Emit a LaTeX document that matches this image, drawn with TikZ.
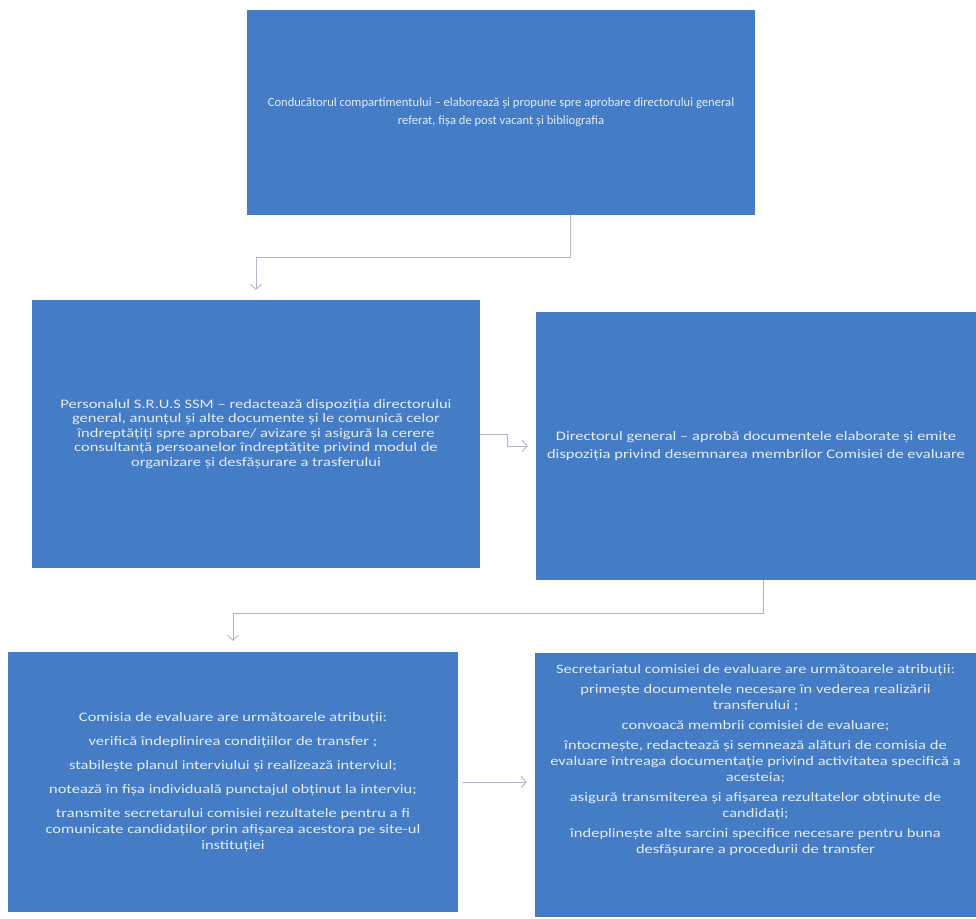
\documentclass[tikz,border=0pt]{standalone}
\usepackage{fontspec}
\setmainfont{Carlito}
\newfontfamily\wideboxfont[FakeStretch=1.27]{Carlito}
\usetikzlibrary{arrows.meta}
\definecolor{boxblue}{RGB}{68,124,197}
\definecolor{boxtext}{RGB}{228,236,248}
\definecolor{linkgray}{RGB}{178,182,200}
\begin{document}
\begin{tikzpicture}[x=1pt, y=-1pt,
	box/.style={draw=none, fill=boxblue, text=boxtext, align=center, inner sep=0pt},
	widetext/.style={font=\wideboxfont\fontsize{13}{#1}\selectfont},
	link/.style={draw=linkgray, line width=0.9pt,
		-{Straight Barb[length=5pt,width=11pt,line width=0.9pt]}}]
	\useasboundingbox (0,0) rectangle (976,918);
	
	%top
	\node[box, minimum width=508pt, minimum height=205pt,
		font=\fontsize{12.6}{18}\selectfont] (conducator) at (501,112.5)
		{Conducătorul compartimentului – elaborează și propune spre aprobare directorului general\\
		 referat, fișa de post vacant și bibliografia};
	
	%middle row
	\node[box, widetext=14.5, minimum width=448pt, minimum height=268pt] (personal) at (256,434)
		{Personalul S.R.U.S SSM – redactează dispoziția directorului\\
		 general, anunțul și alte documente și le comunică celor\\
		 îndreptățiți spre aprobare/ avizare și asigură la cerere\\
		 consultanță persoanelor îndreptățite privind modul de\\
		 organizare și desfășurare a trasferului};
	\node[box, widetext=18, minimum width=440pt, minimum height=268pt] (director) at (756,446)
		{Directorul general – aprobă documentele elaborate și emite\\
		 dispoziția privind desemnarea membrilor Comisiei de evaluare};
	
	%bottom row
	\node[box, widetext=16, minimum width=450pt, minimum height=260pt] (comisia) at (233,782)
		{Comisia de evaluare are următoarele atribuții:\\[8pt]
		 verifică îndeplinirea condițiilor de transfer ;\\[8pt]
		 stabilește planul interviului și realizează interviul;\\[8pt]
		 notează în fișa individuală punctajul obținut la interviu;\\[8pt]
		 transmite secretarului comisiei rezultatele pentru a fi\\
		 comunicate candidaților prin afișarea acestora pe site-ul\\
		 instituției};
	\node[box, minimum width=441pt, minimum height=264pt] (secretariat) at (755.5,785) {};
	\node[box, widetext=16, fill=none, anchor=north] (secretariat-text)
		at ([yshift=-11pt]secretariat.north)
		{Secretariatul comisiei de evaluare are următoarele atribuții:\\[4pt]
		 primește documentele necesare în vederea realizării\\
		 transferului ;\\[4pt]
		 convoacă membrii comisiei de evaluare;\\[4pt]
		 întocmește, redactează și semnează alături de comisia de\\
		 evaluare întreaga documentație privind activitatea specifică a\\
		 acesteia;\\[4pt]
		 asigură transmiterea și afișarea rezultatelor obținute de\\
		 candidați;\\[4pt]
		 îndeplinește alte sarcini specifice necesare pentru buna\\
		 desfășurare a procedurii de transfer};
	
	%connectors
	\draw[link, shorten >=10pt] ([xshift=69pt]conducator.south) -- ++(0,42) -| (personal.north);
	\draw[link, shorten >=8pt] (personal.east) -- ++(27,0) |- (director.west);
	\draw[link, shorten >=11pt] ([xshift=7pt]director.south) -- ++(0,33) -| (comisia.north);
	\draw[link, shorten <=4pt, shorten >=8pt] (comisia.east) -- (comisia.east -| secretariat.west);
\end{tikzpicture}
\end{document}
